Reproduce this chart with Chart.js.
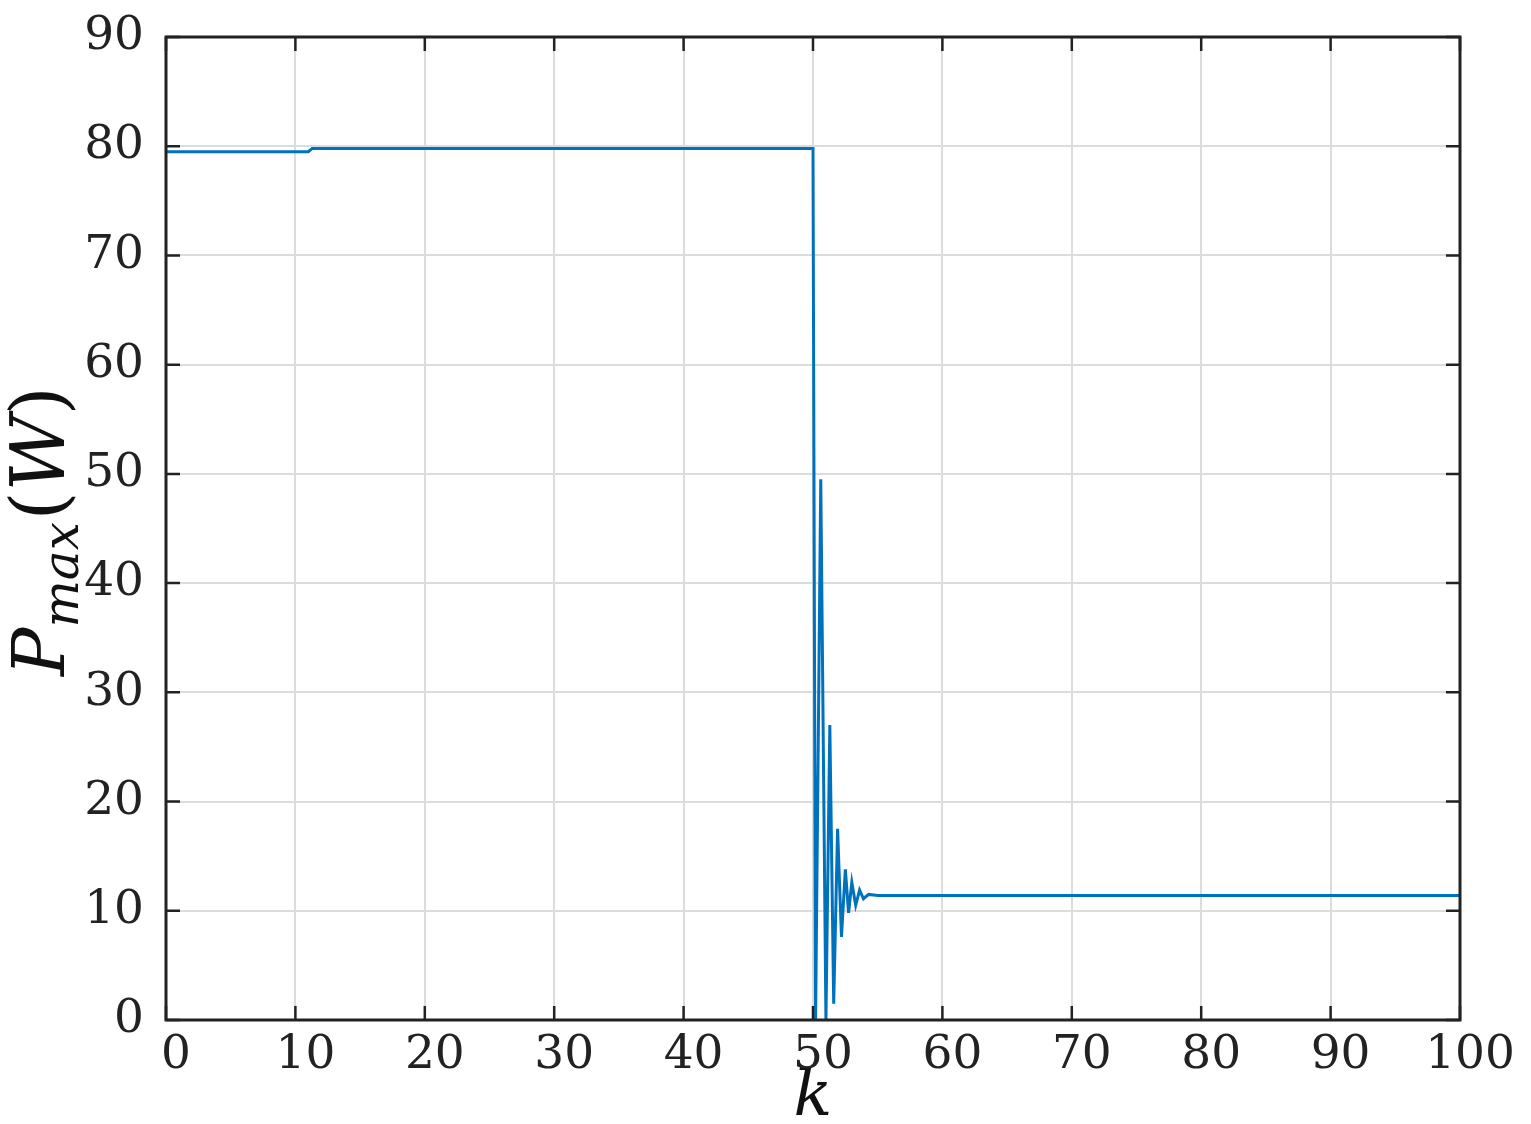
<!DOCTYPE html>
<html>
<head>
<meta charset="utf-8">
<style>
  html, body { margin: 0; padding: 0; background: #fff; }
  #wrap { width: 1531px; height: 1124px; }
</style>
<script src="https://cdn.jsdelivr.net/npm/chart.js@4.4.1/dist/chart.umd.min.js"></script>
</head>
<body>
<div id="wrap"><canvas id="plot" width="1531" height="1124"></canvas></div>
<script>
// iteration index k and power P_max (W)
const kVals = [0, 11, 11.3, 50, 50.2, 50.6, 51.0, 51.3, 51.6, 51.9, 52.2, 52.5, 52.75, 53.0, 53.3, 53.6, 53.9, 54.3, 55, 100];
const pVals = [79.5, 79.5, 79.8, 79.8, 0, 49.5, 0, 27, 1.5, 17.5, 7.6, 13.8, 9.8, 12.6, 10.5, 11.9, 11.1, 11.5, 11.4, 11.4];

const xTicks = [0, 10, 20, 30, 40, 50, 60, 70, 80, 90, 100];
const yTicks = [0, 10, 20, 30, 40, 50, 60, 70, 80, 90];

const tickFont = { family: 'DejaVu Serif', size: 47 };

// MATLAB style ticks pointing inward on all four sides, plus the y label
const framePlugin = {
    id: 'frame',
    afterDatasetsDraw(chart) {
        const ctx = chart.ctx;
        const a = chart.chartArea;
        const x = chart.scales.x, y = chart.scales.y;
        const len = 14;
        ctx.save();
        ctx.strokeStyle = '#222';
        ctx.lineWidth = 2.5;
        ctx.beginPath();
        xTicks.forEach(v => {
            const px = x.getPixelForValue(v);
            ctx.moveTo(px, a.bottom); ctx.lineTo(px, a.bottom - len);
            ctx.moveTo(px, a.top); ctx.lineTo(px, a.top + len);
        });
        yTicks.forEach(v => {
            const py = y.getPixelForValue(v);
            ctx.moveTo(a.left, py); ctx.lineTo(a.left + len, py);
            ctx.moveTo(a.right, py); ctx.lineTo(a.right - len, py);
        });
        ctx.stroke();
        ctx.lineWidth = 3;
        ctx.strokeRect(a.left, a.top, a.right - a.left, a.bottom - a.top);

        // y axis title P_max(W)
        ctx.translate(64, 526);
        ctx.rotate(-Math.PI / 2);
        ctx.fillStyle = '#111';
        ctx.textBaseline = 'alphabetic';
        ctx.textAlign = 'left';
        let cx = -150;
        ctx.font = 'italic 72px "DejaVu Serif"';
        ctx.fillText('P', cx, 0);
        cx += ctx.measureText('P').width;
        ctx.font = 'italic 50px "DejaVu Serif"';
        ctx.fillText('max', cx, 14);
        cx += ctx.measureText('max').width + 2;
        ctx.font = '74px "DejaVu Serif"';
        ctx.fillText('(', cx, 0);
        cx += ctx.measureText('(').width;
        ctx.font = 'italic 74px "DejaVu Serif"';
        ctx.fillText('W', cx, 0);
        cx += ctx.measureText('W').width;
        ctx.font = '74px "DejaVu Serif"';
        ctx.fillText(')', cx, 0);
        ctx.restore();
    }
};

const ctx = document.getElementById('plot').getContext('2d');
new Chart(ctx, {
    type: 'line',
    data: {
        datasets: [{
            label: 'Pmax',
            data: kVals.map((k, i) => ({ x: k, y: pVals[i] })),
            borderColor: '#0072BD',
            borderWidth: 3,
            pointRadius: 0,
            fill: false,
            tension: 0
        }]
    },
    options: {
        responsive: false,
        animation: false,
        events: [],
        layout: { padding: 0 },
        plugins: { legend: { display: false }, tooltip: { enabled: false } },
        scales: {
            x: {
                type: 'linear',
                min: 0, max: 100,
                afterBuildTicks: s => { s.ticks = xTicks.map(v => ({ value: v })); },
                afterFit: s => { s.height = 104; },
                grid: { color: '#dcdcdc', lineWidth: 2, drawTicks: false },
                border: { display: false },
                ticks: { font: tickFont, color: '#222', padding: 8, labelOffset: 10, maxRotation: 0 },
                title: {
                    display: true, text: 'k', color: '#111',
                    font: { family: 'DejaVu Serif', size: 64, style: 'italic', lineHeight: 1 },
                    padding: { top: 0, bottom: -6 }
                }
            },
            x2: {
                type: 'linear', position: 'top',
                min: 0, max: 100,
                afterFit: s => { s.height = 37; },
                grid: { display: false },
                border: { display: false },
                ticks: { display: false }
            },
            y: {
                type: 'linear',
                min: 0, max: 90,
                afterBuildTicks: s => { s.ticks = yTicks.map(v => ({ value: v })); },
                afterFit: s => { s.width = 166; },
                grid: { color: '#dcdcdc', lineWidth: 2, drawTicks: false },
                border: { display: false },
                ticks: { font: { family: 'DejaVu Serif', size: 47, lineHeight: 0.6 }, color: '#222', padding: 22 }
            },
            y2: {
                type: 'linear', position: 'right',
                min: 0, max: 90,
                afterFit: s => { s.width = 71; },
                grid: { display: false },
                border: { display: false },
                ticks: { display: false }
            }
        }
    },
    plugins: [framePlugin]
});
</script>
</body>
</html>
